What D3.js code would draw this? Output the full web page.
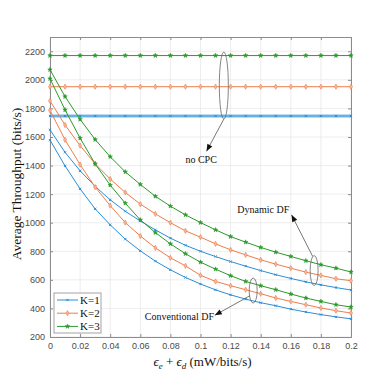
<!DOCTYPE html>
<html>
<head>
<meta charset="utf-8">
<script src="https://cdn.jsdelivr.net/npm/d3@7"></script>
<style>
  body { margin: 0; background: #fff; }
  svg { display: block; }
</style>
</head>
<body>
<div id="chart"></div>
<script>
/* Data */
var energy = [0, 0.01, 0.02, 0.03, 0.04, 0.05, 0.06, 0.07, 0.08, 0.09, 0.1,
              0.11, 0.12, 0.13, 0.14, 0.15, 0.16, 0.17, 0.18, 0.19, 0.2];

// no CPC (flat)
var noCpc = [1747, 1952, 2170];

// Dynamic DF
var dynK1 = [1650, 1493, 1363, 1255, 1160, 1080, 1012, 950, 892, 842, 800,
             763, 728, 696, 665, 636, 610, 586, 565, 546, 529];
var dynK2 = [1853, 1684, 1540, 1412, 1306, 1212, 1130, 1062, 1000, 943, 899,
             852, 810, 775, 740, 710, 682, 654, 631, 608, 594];
var dynK3 = [2071, 1883, 1724, 1582, 1462, 1356, 1268, 1185, 1116, 1055, 1001,
             950, 903, 864, 827, 794, 764, 734, 706, 682, 655];

// Conventional DF
var convK1 = [1578, 1398, 1237, 1097, 985, 885, 803, 731, 670, 617, 571,
              530, 495, 465, 440, 419, 395, 375, 357, 341, 327];
var convK2 = [1787, 1580, 1407, 1249, 1120, 1001, 907, 824, 754, 698, 632,
              589, 559, 531, 503, 473, 449, 426, 403, 384, 368];
var convK3 = [2008, 1790, 1592, 1412, 1263, 1137, 1020, 931, 852, 783, 724,
              675, 629, 589, 559, 531, 501, 473, 449, 426, 410];

var legendLabels = ["K=1", "K=2", "K=3"];
var xTicks = [0, 0.02, 0.04, 0.06, 0.08, 0.1, 0.12, 0.14, 0.16, 0.18, 0.2];
var yTicks = [200, 400, 600, 800, 1000, 1200, 1400, 1600, 1800, 2000, 2200];

var colors = ["#2b8ed6", "#ee7d4c", "#2a9a2a"];
var markers = ["cross", "diamond", "star"];

/* Setup */
var width = 388, height = 388;
var margin = {top: 37, right: 37, bottom: 51, left: 50};
var serif = "'Liberation Serif', 'DejaVu Serif', serif";

var svg = d3.select('#chart').append('svg')
    .attr('width', width)
    .attr('height', height);

var x = d3.scaleLinear().domain([0, 0.2]).range([margin.left, width - margin.right]);
var y = d3.scaleLinear().domain([200, 2300]).range([height - margin.bottom, margin.top]);

drawGrid();
drawAxes();
drawSeries();
drawAnnotations();
drawLegend();
drawLabels();

/* grid lines */
function drawGrid(){
    var g = svg.append('g');
    g.selectAll('.gx').data(xTicks).enter().append('line')
	.attr('x1', function(d){return x(d);})
	.attr('x2', function(d){return x(d);})
	.attr('y1', y(200)).attr('y2', y(2300))
	.attr('stroke', '#e8e8e8').attr('stroke-width', 0.8);
    g.selectAll('.gy').data(yTicks).enter().append('line')
	.attr('x1', x(0)).attr('x2', x(0.2))
	.attr('y1', function(d){return y(d);})
	.attr('y2', function(d){return y(d);})
	.attr('stroke', '#e8e8e8').attr('stroke-width', 0.8);
}

/* axes box with inward ticks */
function drawAxes(){
    var fmtX = function(d){ return d === 0 ? "0" : d3.format('.2~f')(d); };
    var bottom = svg.append('g')
	.attr('transform', 'translate(0,' + y(200) + ')')
	.call(d3.axisBottom(x).tickValues(xTicks).tickSize(-3).tickPadding(6).tickFormat(fmtX));
    var top = svg.append('g')
	.attr('transform', 'translate(0,' + y(2300) + ')')
	.call(d3.axisTop(x).tickValues(xTicks).tickSize(-3).tickFormat(''));
    var left = svg.append('g')
	.attr('transform', 'translate(' + x(0) + ',0)')
	.call(d3.axisLeft(y).tickValues(yTicks).tickSize(-3).tickPadding(5).tickFormat(d3.format('d')));
    var right = svg.append('g')
	.attr('transform', 'translate(' + x(0.2) + ',0)')
	.call(d3.axisRight(y).tickValues(yTicks).tickSize(-3).tickFormat(''));
    [bottom, top, left, right].forEach(function(a){
	a.selectAll('path').attr('stroke', '#8c8c8c').attr('stroke-width', 1);
	a.selectAll('line').attr('stroke', '#8c8c8c');
	a.selectAll('text')
	    .attr('fill', '#4a4a4a')
	    .style('font-family', "'Liberation Sans', Arial, sans-serif")
	    .style('font-size', '9px');
    });
}

function markerPath(type){
    if (type == "cross") return d3.symbol().type(d3.symbolX).size(4)();
    if (type == "diamond") return d3.symbol().type(d3.symbolDiamond).size(8)();
    return d3.symbol().type(d3.symbolStar).size(6)();
}

function drawOne(values, i){
    var pts = energy.map(function(e, j){ return {e: e, v: values[j]}; });
    var line = d3.line().x(function(d){return x(d.e);}).y(function(d){return y(d.v);});
    var g = svg.append('g');
    g.append('path').datum(pts)
	.attr('d', line)
	.attr('fill', 'none')
	.attr('stroke', colors[i])
	.attr('stroke-width', 1);
    g.selectAll('path.m').data(pts).enter().append('path')
	.attr('class', 'm')
	.attr('d', markerPath(markers[i]))
	.attr('transform', function(d){return 'translate(' + x(d.e) + ',' + y(d.v) + ')';})
	.attr('fill', markers[i] == "diamond" ? '#f6b89c' : colors[i])
	.attr('stroke', colors[i])
	.attr('stroke-width', markers[i] == "cross" ? 1 : 0.6);
}

function drawSeries(){
    // flat no-CPC lines; blue drawn wider (overlapping pair)
    svg.append('line')
	.attr('x1', x(0)).attr('x2', x(0.2))
	.attr('y1', y(noCpc[0])).attr('y2', y(noCpc[0]))
	.attr('stroke', '#a9d1ef').attr('stroke-width', 3.5);
    noCpc.forEach(function(v, i){
	drawOne(energy.map(function(){ return v; }), i);
    });
    [dynK1, dynK2, dynK3].forEach(function(s, i){ drawOne(s, i); });
    [convK1, convK2, convK3].forEach(function(s, i){ drawOne(s, i); });
}

function arrow(x1, y1, x2, y2){
    svg.append('line')
	.attr('x1', x1).attr('y1', y1).attr('x2', x2).attr('y2', y2)
	.attr('stroke', '#555').attr('stroke-width', 0.8);
    var ang = Math.atan2(y2 - y1, x2 - x1);
    var len = 7, w = 2.8;
    var bx = x2 - len * Math.cos(ang), by = y2 - len * Math.sin(ang);
    var px = -Math.sin(ang) * w, py = Math.cos(ang) * w;
    svg.append('path')
	.attr('d', 'M' + x2 + ',' + y2 + 'L' + (bx + px) + ',' + (by + py) + 'L' + (bx - px) + ',' + (by - py) + 'Z')
	.attr('fill', '#111');
}

function ellipse(cx, cy, rx, ry){
    svg.append('ellipse')
	.attr('cx', cx).attr('cy', cy).attr('rx', rx).attr('ry', ry)
	.attr('fill', 'none').attr('stroke', '#666').attr('stroke-width', 0.8);
}

function note(tx, ty, str, anchor){
    svg.append('text')
	.attr('x', tx).attr('y', ty)
	.attr('text-anchor', anchor)
	.style('font-family', serif)
	.style('font-size', '10px')
	.attr('fill', '#111')
	.text(str);
}

function drawAnnotations(){
    // no CPC
    ellipse(x(0.1155), y(1960), 4.5, 33.5);
    arrow(x(0.1155), y(1725), x(0.104), y(1500));
    note(x(0.09), y(1420), "no CPC", 'start');
    // Dynamic DF
    ellipse(x(0.1755), y(665), 4, 15);
    arrow(x(0.1745), y(765), x(0.1605), y(1055));
    note(x(0.159), y(1070), "Dynamic DF", 'end');
    // Conventional DF
    ellipse(x(0.135), y(525), 4, 12.5);
    arrow(x(0.133), y(490), x(0.1095), y(352));
    note(x(0.063), y(320), "Conventional DF", 'start');
}

function drawLegend(){
    var lx = 54, ly = 293, lw = 47, lh = 40;
    var g = svg.append('g');
    g.append('rect')
	.attr('x', lx).attr('y', ly).attr('width', lw).attr('height', lh)
	.attr('fill', '#fff').attr('stroke', '#8c8c8c').attr('stroke-width', 0.8);
    legendLabels.forEach(function(lab, i){
	var yy = ly + 7 + i * 13.2;
	g.append('line')
	    .attr('x1', lx + 3).attr('x2', lx + 24)
	    .attr('y1', yy).attr('y2', yy)
	    .attr('stroke', colors[i]).attr('stroke-width', 1);
	g.append('path')
	    .attr('d', markerPath(markers[i]))
	    .attr('transform', 'translate(' + (lx + 13.5) + ',' + yy + ')')
	    .attr('fill', markers[i] == "diamond" ? '#f6b89c' : colors[i])
	    .attr('stroke', colors[i])
	    .attr('stroke-width', markers[i] == "cross" ? 1 : 0.6);
	g.append('text')
	    .attr('x', lx + 26).attr('y', yy + 4)
	    .style('font-family', serif)
	    .style('font-size', '11px')
	    .attr('fill', '#111')
	    .text(lab);
    });
}

function drawLabels(){
    svg.append('text')
	.attr('transform', 'translate(21,184) rotate(-90)')
	.attr('text-anchor', 'middle')
	.style('font-family', serif)
	.style('font-size', '13.5px')
	.attr('fill', '#111')
	.text('Average Throughput (bits/s)');

    var t = svg.append('text')
	.attr('x', (x(0) + x(0.2)) / 2 + 2).attr('y', 366)
	.attr('text-anchor', 'middle')
	.style('font-family', serif)
	.style('font-size', '13px')
	.attr('fill', '#111');
    t.append('tspan').style('font-style', 'italic').text('ϵ');
    t.append('tspan').attr('dy', 3).style('font-size', '9px').style('font-style', 'italic').text('e');
    t.append('tspan').attr('dy', -3).text(' + ');
    t.append('tspan').style('font-style', 'italic').text('ϵ');
    t.append('tspan').attr('dy', 3).style('font-size', '9px').style('font-style', 'italic').text('d');
    t.append('tspan').attr('dy', -3).text(' (mW/bits/s)');
}
</script>
</body>
</html>
